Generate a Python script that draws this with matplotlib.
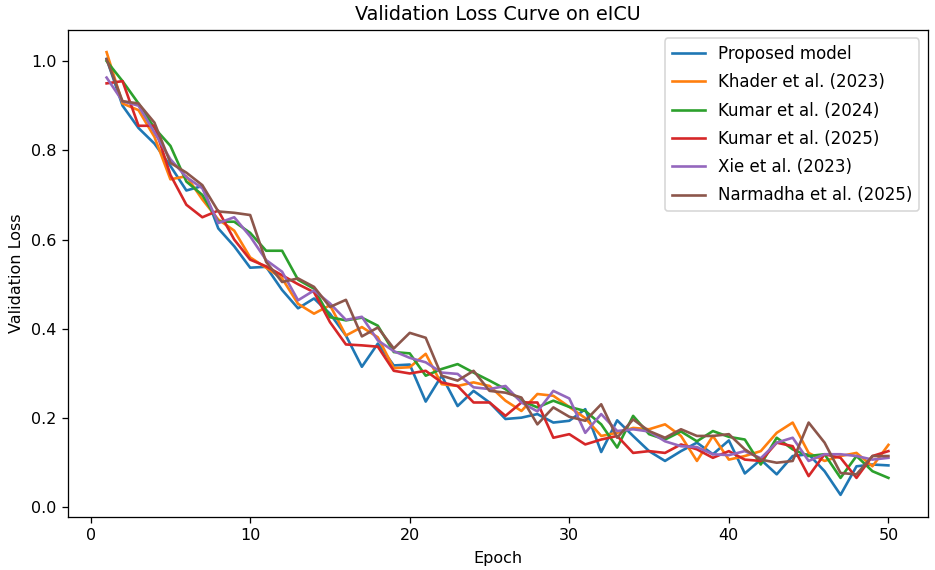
import numpy as np
import matplotlib
matplotlib.use('Agg')
import matplotlib.pyplot as plt

epochs = np.arange(1, 51)

proposed = [1.005, 0.90, 0.85, 0.815, 0.765, 0.71, 0.72, 0.625, 0.585, 0.537,
            0.539, 0.487, 0.446, 0.468, 0.434, 0.385, 0.315, 0.367, 0.318, 0.32,
            0.237, 0.295, 0.227, 0.261, 0.235, 0.198, 0.201, 0.209, 0.19, 0.194,
            0.22, 0.124, 0.195, 0.16, 0.126, 0.104, 0.126, 0.145, 0.119, 0.15,
            0.076, 0.107, 0.074, 0.115, 0.119, 0.081, 0.028, 0.092, 0.096, 0.094]

khader = [1.02, 0.905, 0.89, 0.83, 0.735, 0.742, 0.69, 0.645, 0.62, 0.56,
          0.537, 0.513, 0.456, 0.434, 0.453, 0.385, 0.404, 0.381, 0.312, 0.314,
          0.344, 0.276, 0.272, 0.28, 0.272, 0.239, 0.216, 0.254, 0.25, 0.225,
          0.2, 0.16, 0.167, 0.178, 0.175, 0.186, 0.16, 0.104, 0.16, 0.107,
          0.115, 0.126, 0.167, 0.19, 0.122, 0.104, 0.115, 0.122, 0.092, 0.14]

kumar24 = [1.0, 0.955, 0.905, 0.85, 0.81, 0.73, 0.70, 0.64, 0.64, 0.615,
           0.575, 0.575, 0.51, 0.49, 0.426, 0.419, 0.425, 0.407, 0.348, 0.345,
           0.295, 0.31, 0.321, 0.302, 0.284, 0.265, 0.239, 0.224, 0.239, 0.225,
           0.216, 0.186, 0.134, 0.205, 0.164, 0.152, 0.17, 0.148, 0.171, 0.158,
           0.152, 0.096, 0.156, 0.13, 0.115, 0.119, 0.066, 0.115, 0.081, 0.066]

kumar25 = [0.95, 0.955, 0.855, 0.855, 0.745, 0.678, 0.65, 0.665, 0.60, 0.555,
           0.54, 0.52, 0.50, 0.482, 0.415, 0.365, 0.363, 0.36, 0.306, 0.30,
           0.306, 0.28, 0.272, 0.235, 0.235, 0.205, 0.235, 0.235, 0.156, 0.164,
           0.141, 0.152, 0.16, 0.122, 0.126, 0.122, 0.141, 0.13, 0.111, 0.126,
           0.107, 0.104, 0.145, 0.137, 0.07, 0.119, 0.111, 0.066, 0.115, 0.126]

xie = [0.963, 0.91, 0.90, 0.84, 0.78, 0.74, 0.715, 0.637, 0.65, 0.607,
       0.554, 0.528, 0.464, 0.486, 0.457, 0.42, 0.427, 0.374, 0.35, 0.335,
       0.325, 0.302, 0.299, 0.269, 0.265, 0.272, 0.235, 0.215, 0.261, 0.244,
       0.167, 0.209, 0.171, 0.175, 0.17, 0.148, 0.137, 0.135, 0.119, 0.117,
       0.126, 0.11, 0.145, 0.156, 0.104, 0.119, 0.119, 0.115, 0.107, 0.111]

narmadha = [1.004, 0.91, 0.905, 0.862, 0.772, 0.75, 0.722, 0.663, 0.66, 0.655,
            0.55, 0.505, 0.513, 0.494, 0.449, 0.465, 0.383, 0.403, 0.356, 0.391,
            0.38, 0.295, 0.284, 0.306, 0.261, 0.257, 0.246, 0.186, 0.224, 0.203,
            0.194, 0.231, 0.156, 0.197, 0.171, 0.156, 0.175, 0.16, 0.16, 0.164,
            0.13, 0.107, 0.1, 0.104, 0.19, 0.145, 0.077, 0.074, 0.115, 0.115]

series = [
    ('Proposed model', proposed),
    ('Khader et al. (2023)', khader),
    ('Kumar et al. (2024)', kumar24),
    ('Kumar et al. (2025)', kumar25),
    ('Xie et al. (2023)', xie),
    ('Narmadha et al. (2025)', narmadha),
]

# everything drawn a bit larger than default: use dpi 115 on a smaller canvas
DPI = 115
fig = plt.figure(figsize=(935 / DPI, 570 / DPI), dpi=DPI)
ax = fig.add_axes([67.5 / 935, 53 / 570, 860 / 935, 487 / 570])

for name, vals in series:
    ax.plot(epochs, vals, label=name, lw=1.65)

ax.set_title('Validation Loss Curve on eICU')
ax.set_xlabel('Epoch', labelpad=5)
ax.set_ylabel('Validation Loss')
ax.legend(loc='upper right', fontsize=10.4, labelspacing=0.62)

fig.savefig('out.png', dpi=DPI)
